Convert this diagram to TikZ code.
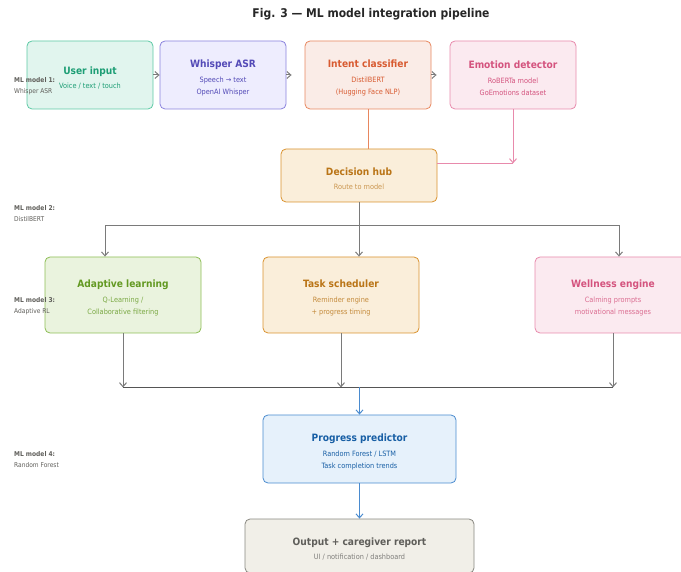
\documentclass[tikz,border=0pt]{standalone}
\usepackage{fontspec}
\setmainfont{DejaVu Sans Condensed}
\usetikzlibrary{arrows.meta}

\definecolor{greenfill}{HTML}{E1F5EE}\definecolor{greendraw}{HTML}{5DCAA5}\definecolor{greentext}{HTML}{1D9E75}
\definecolor{purplefill}{HTML}{EEEDFE}\definecolor{purpledraw}{HTML}{8A82DD}\definecolor{purpletext}{HTML}{534AB7}
\definecolor{coralfill}{HTML}{FAECE7}\definecolor{coraldraw}{HTML}{E8875F}\definecolor{coraltext}{HTML}{D85A30}
\definecolor{pinkfill}{HTML}{FBEAF0}\definecolor{pinkdraw}{HTML}{E88AAC}\definecolor{pinktext}{HTML}{D4537E}
\definecolor{amberfill}{HTML}{FAEEDA}\definecolor{amberdraw}{HTML}{D9922E}\definecolor{ambertext}{HTML}{BA7517}
\definecolor{limefill}{HTML}{EAF3DE}\definecolor{limedraw}{HTML}{8DBE55}\definecolor{limetext}{HTML}{639922}
\definecolor{bluefill}{HTML}{E6F1FB}\definecolor{bluedraw}{HTML}{4A8BCF}\definecolor{bluetext}{HTML}{185FA5}
\definecolor{grayfill}{HTML}{F1EFE8}\definecolor{graydraw}{HTML}{888780}\definecolor{graytext}{HTML}{5F5E5A}
\definecolor{linegray}{HTML}{7A7A7A}\definecolor{busgray}{HTML}{555555}

\newcommand{\tfont}{\fontsize{10.1}{12}\selectfont\bfseries\rule{0pt}{14pt}}
\newcommand{\sfont}{\fontsize{7.3}{11}\selectfont}

\begin{document}
\begin{tikzpicture}[x=1pt,y=-1pt,
		box/.style={draw, rounded corners=5pt, line width=0.8pt, align=center, inner sep=0pt},
		small box/.style={box, minimum width=126pt, minimum height=68pt},
		wide box/.style={box, minimum width=156pt, minimum height=76pt},
		palette/.style n args={3}{fill=#1, draw=#2, text=#3},
		flow/.style={line width=1pt, -{Straight Barb[length=4pt,width=7pt]}},
		mllabel/.style={anchor=west, align=left, text=graytext, font=\fontsize{6.6}{11}\selectfont, inner sep=0pt},]
	\useasboundingbox (0,0) rectangle (681,572);
	\node[font=\fontsize{12}{14}\selectfont\bfseries, text=black!85] (title) at (371,14.5) {Fig. 3 — ML model integration pipeline};

	% input stage
	\node[small box, palette={greenfill}{greendraw}{greentext}] (user) at (90,75)
		{{\tfont User input}\\[2.5pt]{\sfont Voice / text / touch}};
	\node[small box, palette={purplefill}{purpledraw}{purpletext}] (whisper) at (223,75)
		{{\tfont Whisper ASR}\\[2.5pt]{\sfont Speech → text}\\{\sfont OpenAI Whisper}};
	\node[small box, palette={coralfill}{coraldraw}{coraltext}] (intent) at (368,75)
		{{\tfont Intent classifier}\\[2.5pt]{\sfont DistilBERT}\\{\sfont (Hugging Face NLP)}};
	\node[small box, palette={pinkfill}{pinkdraw}{pinktext}] (emotion) at (513,75)
		{{\tfont Emotion detector}\\[2.5pt]{\sfont RoBERTa model}\\{\sfont GoEmotions dataset}};

	% routing
	\node[box, minimum width=156pt, minimum height=53pt, palette={amberfill}{amberdraw}{ambertext}] (hub) at (359,175.5)
		{{\tfont Decision hub}\\[2.5pt]{\sfont\color{ambertext!75} Route to model}};

	% ML modules
	\node[wide box, palette={limefill}{limedraw}{limetext}] (adaptive) at (123,295)
		{{\tfont Adaptive learning}\\[2.5pt]{\sfont\color{limetext!85} Q-Learning /}\\{\sfont\color{limetext!85} Collaborative filtering}};
	\node[wide box, palette={amberfill}{amberdraw}{ambertext}] (task) at (341,295)
		{{\tfont Task scheduler}\\[2.5pt]{\sfont\color{ambertext!85} Reminder engine}\\{\sfont\color{ambertext!85} + progress timing}};
	\node[wide box, palette={pinkfill}{pinkdraw}{pinktext}] (wellness) at (613,295)
		{{\tfont Wellness engine}\\[2.5pt]{\sfont\color{pinktext!85} Calming prompts}\\{\sfont\color{pinktext!85} motivational messages}};

	% prediction and output
	\node[box, minimum width=193pt, minimum height=68pt, palette={bluefill}{bluedraw}{bluetext}] (progress) at (359.5,449)
		{{\tfont Progress predictor}\\[2.5pt]{\sfont Random Forest / LSTM}\\{\sfont Task completion trends}};
	\node[box, minimum width=229pt, minimum height=54pt, palette={grayfill}{graydraw}{graytext}] (output) at (359.5,546)
		{{\tfont Output + caregiver report}\\[2.5pt]{\sfont\color{graytext!80} UI / notification / dashboard}};

	% side notes
	\node[mllabel] (ml1) at (14,86.5) {\textbf{ML model 1:}\\Whisper ASR};
	\node[mllabel] (ml2) at (14,214) {\textbf{ML model 2:}\\DistilBERT};
	\node[mllabel] (ml3) at (14,306) {\textbf{ML model 3:}\\Adaptive RL};
	\node[mllabel] (ml4) at (14,460) {\textbf{ML model 4:}\\Random Forest};

	% top row arrows
	\draw[flow, linegray] (user.east) -- (whisper.west);
	\draw[flow, linegray, shorten >=13pt] (whisper.east) -- (intent.west);
	\draw[flow, linegray, shorten >=13pt] (intent.east) -- (emotion.west);

	% into the hub
	\coordinate (emojoin) at ([yshift=-54pt]emotion.south);
	\draw[line width=1pt, coraldraw] (intent.south) -- (intent.south |- hub.north);
	\draw[flow, pinkdraw] (emotion.south) -- (emojoin);
	\draw[line width=1pt, pinkdraw] (emojoin) -- (emojoin -| hub.east);

	% hub to modules
	\coordinate (hubbus) at ([yshift=-23pt]hub.south);
	\draw[line width=1pt, linegray] (hub.south) -- (hubbus);
	\draw[flow, linegray] (hubbus) -- ([xshift=18pt]task.north);
	\draw[flow, linegray] (hubbus) -| ([xshift=-18pt]adaptive.north);
	\draw[flow, linegray] (hubbus) -| ([xshift=6pt]wellness.north);

	% modules to predictor
	\coordinate (merge) at ([yshift=-54pt]task.south);
	\draw[flow, linegray] (adaptive.south) -- (adaptive.south |- merge);
	\draw[flow, linegray] (task.south) -- (task.south |- merge);
	\draw[flow, linegray] (wellness.south) -- (wellness.south |- merge);
	\draw[line width=1pt, busgray] (adaptive.south |- merge) -- (wellness.south |- merge);
	\draw[flow, bluedraw] (progress.north |- merge) -- (progress.north);
	\draw[flow, bluedraw] (progress.south) -- (output.north);
\end{tikzpicture}
\end{document}
